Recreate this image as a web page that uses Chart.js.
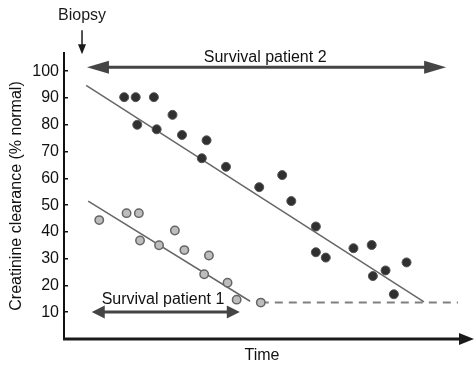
<!DOCTYPE html>
<html>
<head>
<title>Creatinine clearance vs time</title>
<script src="https://cdn.jsdelivr.net/npm/chart.js@4.4.0/dist/chart.umd.min.js"></script>
<style>
  html, body { margin: 0; padding: 0; background: #fff; }
</style>
</head>
<body>
<canvas id="canvas" width="474" height="365"></canvas>
<script>
// patient 2 (dark dots)
var p2Time  = [15.2, 18.1, 22.7, 18.5, 23.4, 27.4, 29.8, 36.0, 34.8, 40.9, 49.3, 55.1,
               57.4, 63.6, 63.6, 66.1, 73.1, 77.7, 78.0, 81.2, 83.3, 86.5];
var p2Clear = [90.3, 90.3, 90.3, 80.0, 78.3, 83.7, 76.2, 74.2, 67.5, 64.3, 56.7, 61.2,
               51.5, 42.0, 32.4, 30.4, 33.9, 35.1, 23.5, 25.6, 16.7, 28.6];

// patient 1 (light dots)
var p1Time  = [8.9, 15.8, 18.9, 19.2, 24.0, 28.0, 30.4, 36.6, 35.4, 41.3, 43.6, 49.7];
var p1Clear = [44.4, 47.0, 47.0, 36.8, 35.0, 40.5, 33.2, 31.2, 24.2, 21.0, 14.7, 13.6];

// fitted lines (start, end)
var fit2Time = [5.6, 90.9];
var fit2Clear = [94.7, 13.9];
var fit1Time = [6.1, 47.0];
var fit1Clear = [51.5, 14.1];

// end-stage level (dashed)
var endTime = [49.7, 99.5];
var endClear = [13.6, 13.6];

// survival arrows
var survLabels = ['Survival patient 2', 'Survival patient 1'];
var survFrom = [5.8, 7.0];
var survTo = [96.5, 44.4];
var survLevel = [101.5, 10.1];
var survTextTime = [50.8, 25.0];
var survTextLevel = [103.4, 13.0];

// biopsy marker
var biopsyTime = 4.55;
var biopsyArrow = [115.3, 106.3];
var biopsyTextLevel = 119.0;

var yTicks = [10, 20, 30, 40, 50, 60, 70, 80, 90, 100];

var FONT = '"Liberation Sans", Arial, sans-serif';

function pts(xs, ys) {
  return xs.map(function (x, i) { return { x: x, y: ys[i] }; });
}

function arrowHead(ctx, x, y, dx, dy, len, half) {
  var n = Math.sqrt(dx * dx + dy * dy);
  var ux = dx / n, uy = dy / n;
  ctx.beginPath();
  ctx.moveTo(x, y);
  ctx.lineTo(x - ux * len - uy * half, y - uy * len + ux * half);
  ctx.lineTo(x - ux * len + uy * half, y - uy * len - ux * half);
  ctx.closePath();
  ctx.fill();
}

var extras = {
  id: 'extras',
  afterDraw: function (chart) {
    var ctx = chart.ctx;
    var xs = chart.scales.x, ys = chart.scales.y;
    var area = chart.chartArea;
    ctx.save();

    // x axis with arrow
    ctx.strokeStyle = '#1a1a1a';
    ctx.fillStyle = '#1a1a1a';
    ctx.lineWidth = 3;
    ctx.beginPath();
    ctx.moveTo(area.left - 1, area.bottom);
    ctx.lineTo(area.right + 2, area.bottom);
    ctx.stroke();
    arrowHead(ctx, area.right + 14, area.bottom, 1, 0, 15, 6);

    // biopsy
    var bx = xs.getPixelForValue(biopsyTime);
    var by1 = ys.getPixelForValue(biopsyArrow[0]);
    var by2 = ys.getPixelForValue(biopsyArrow[1]);
    ctx.lineWidth = 1.5;
    ctx.beginPath();
    ctx.moveTo(bx, by1);
    ctx.lineTo(bx, by2 - 8);
    ctx.stroke();
    arrowHead(ctx, bx, by2, 0, 1, 10, 4);
    ctx.font = '16px ' + FONT;
    ctx.textAlign = 'center';
    ctx.textBaseline = 'alphabetic';
    ctx.fillText('Biopsy', bx, ys.getPixelForValue(biopsyTextLevel));

    // survival arrows
    ctx.strokeStyle = '#454545';
    ctx.fillStyle = '#454545';
    ctx.lineWidth = 3;
    for (var i = 0; i < survLabels.length; i++) {
      var x1 = xs.getPixelForValue(survFrom[i]);
      var x2 = xs.getPixelForValue(survTo[i]);
      var y = ys.getPixelForValue(survLevel[i]);
      var hl = i === 0 ? 22 : 13;
      ctx.beginPath();
      ctx.moveTo(x1 + hl - 2, y);
      ctx.lineTo(x2 - hl + 2, y);
      ctx.stroke();
      arrowHead(ctx, x1, y, -1, 0, hl, 6.5);
      arrowHead(ctx, x2, y, 1, 0, hl, 6.5);
      ctx.fillStyle = '#111';
      ctx.fillText(survLabels[i], xs.getPixelForValue(survTextTime[i]), ys.getPixelForValue(survTextLevel[i]));
      ctx.fillStyle = '#454545';
    }
    ctx.restore();
  }
};

var config = {
  type: 'scatter',
  data: {
    datasets: [{
      label: 'Patient 2',
      data: pts(p2Time, p2Clear),
      backgroundColor: '#303030',
      borderColor: '#555',
      borderWidth: 1,
      pointRadius: 4.5,
      order: 0
    }, {
      label: 'Patient 1',
      data: pts(p1Time, p1Clear),
      backgroundColor: '#bdbdbd',
      borderColor: '#656565',
      borderWidth: 1.5,
      pointRadius: 4.2,
      order: 0
    }, {
      label: 'Fit 2',
      type: 'line',
      data: pts(fit2Time, fit2Clear),
      borderColor: '#666',
      borderWidth: 1.5,
      pointRadius: 0,
      order: 1
    }, {
      label: 'Fit 1',
      type: 'line',
      data: pts(fit1Time, fit1Clear),
      borderColor: '#666',
      borderWidth: 1.5,
      pointRadius: 0,
      order: 1
    }, {
      label: 'End stage',
      type: 'line',
      data: pts(endTime, endClear),
      borderColor: '#808080',
      borderWidth: 2,
      borderDash: [8, 6],
      pointRadius: 0,
      order: 2
    }]
  },
  options: {
    responsive: false,
    animation: false,
    devicePixelRatio: 1,
    layout: { padding: { top: 53, right: 14, left: 0, bottom: 0 } },
    plugins: {
      legend: { display: false },
      tooltip: { enabled: false }
    },
    scales: {
      x: {
        type: 'linear',
        min: 0,
        max: 100,
        ticks: { display: false },
        grid: { display: false },
        border: { display: false },
        title: {
          display: true,
          text: 'Time',
          color: '#111',
          font: { family: FONT, size: 16 },
          padding: { top: 0, bottom: 0 }
        },
        afterFit: function (scale) { scale.height = 26; }
      },
      y: {
        min: 0,
        max: 106.8,
        afterBuildTicks: function (scale) {
          scale.ticks = yTicks.map(function (v) { return { value: v }; });
        },
        ticks: {
          color: '#111',
          padding: 9,
          font: { family: FONT, size: 16 }
        },
        grid: {
          drawOnChartArea: false,
          drawTicks: true,
          tickLength: -4,
          color: '#111',
          lineWidth: 1.5
        },
        border: { display: true, color: '#111', width: 2 },
        title: {
          display: true,
          text: 'Creatinine clearance (% normal)',
          color: '#111',
          font: { family: FONT, size: 16 },
          padding: { top: 7, bottom: 0 }
        },
        afterFit: function (scale) { scale.width = 64; }
      }
    }
  },
  plugins: [extras]
};

var ctx = document.getElementById('canvas').getContext('2d');
window.myChart = new Chart(ctx, config);
</script>
</body>
</html>
